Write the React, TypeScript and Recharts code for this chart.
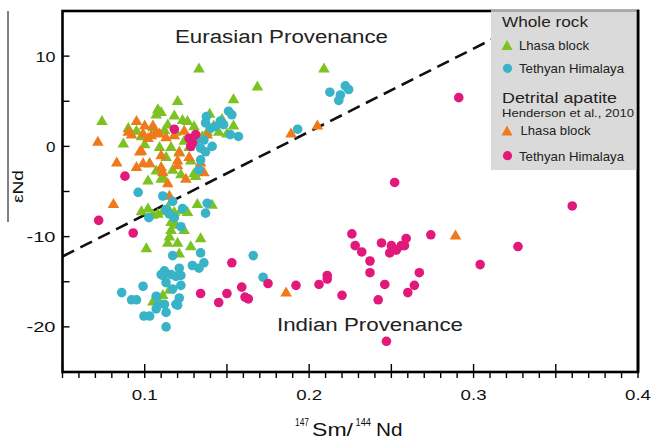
import { ScatterChart, Scatter, XAxis, YAxis, ReferenceLine } from 'recharts'

const FONT = '"Liberation Sans", Arial, sans-serif'

// 147Sm/144Nd vs eNd
const wholeRockLhasa: [number, number][] = [
  [0.074, 2.9], [0.087, 0.4], [0.09, 2.1], [0.095, 1.8], [0.098, 1.2], [0.1, 0.3],
  [0.102, -3.7], [0.103, -1.8], [0.105, 2.2], [0.107, 3.6], [0.108, 4.2], [0.11, 3.9],
  [0.107, -2.6], [0.109, 0.0], [0.111, -3.3], [0.112, 1.9], [0.113, -1.1], [0.114, 2.5],
  [0.116, 0.0], [0.118, 3.5], [0.119, 1.7], [0.12, 5.1], [0.121, -0.5], [0.123, 3.0],
  [0.124, 0.7], [0.126, 2.9], [0.127, 0.0], [0.128, -1.5], [0.13, 2.3], [0.13, -2.9],
  [0.133, 8.7], [0.135, 1.2], [0.138, 1.7], [0.1395, 3.7], [0.142, 2.4], [0.145, 1.7],
  [0.147, 3.1], [0.15, 1.5], [0.154, 2.4], [0.154, 5.3], [0.1685, 6.7], [0.209, 8.7],
  [0.098, -7.1], [0.102, -6.8], [0.105, -7.5], [0.108, -7.4], [0.111, -7.1], [0.114, -6.7],
  [0.118, -7.2], [0.122, -7.0], [0.126, -7.2], [0.132, -6.3], [0.141, -6.4], [0.116, -8.3],
  [0.119, -8.6], [0.116, -9.2], [0.124, -9.2], [0.115, -9.9], [0.114, -10.6], [0.12, -10.6],
  [0.101, -11.2], [0.128, -11.0], [0.134, -10.1], [0.121, -11.8], [0.111, -16.4], [0.105, -17.1],
  [0.115, -15.8], [0.108, -16.8], [0.117, -2.5], [0.122, -3.0], [0.131, -3.2], [0.11, -3.5],
]

const wholeRockTethyan: [number, number][] = [
  [0.2126, 6.0], [0.219, 5.7], [0.222, 6.7], [0.224, 6.3], [0.218, 5.1], [0.193, 1.9],
  [0.1375, 3.3], [0.14, 2.0], [0.143, 2.2], [0.146, 2.8], [0.148, 2.4], [0.151, 3.9],
  [0.153, 3.5], [0.152, 1.3], [0.157, 1.1], [0.137, 2.6], [0.136, 0.7], [0.141, 0.0],
  [0.134, -0.2], [0.137, -0.6], [0.134, -1.5], [0.133, -2.6], [0.131, 0.5], [0.096, -5.1],
  [0.111, -5.5], [0.1025, -7.9], [0.117, -6.1], [0.113, -7.0], [0.123, -6.9], [0.115, -7.5],
  [0.118, -7.9], [0.122, -8.9], [0.137, -7.4], [0.138, -6.3], [0.134, -11.8], [0.117, -12.1],
  [0.136, -12.9], [0.129, -13.2], [0.133, -13.5], [0.112, -13.8], [0.111, -14.3], [0.116, -14.2],
  [0.121, -13.5], [0.122, -14.3], [0.122, -15.4], [0.117, -15.8], [0.113, -15.1], [0.099, -15.5],
  [0.086, -16.2], [0.092, -17.0], [0.095, -17.0], [0.107, -16.6], [0.108, -17.6], [0.112, -17.5],
  [0.121, -16.8], [0.12, -17.6], [0.0995, -18.8], [0.103, -18.8], [0.107, -18.0], [0.113, -18.4],
  [0.113, -20.0], [0.119, -17.5], [0.166, -12.1], [0.172, -14.5], [0.119, -14.4], [0.11, -14.2],
]

const apatiteLhasa: [number, number][] = [
  [0.0715, 0.6], [0.081, -6.3], [0.083, -1.7], [0.09, 1.7], [0.092, 1.4], [0.095, 2.9],
  [0.095, -2.2], [0.098, -0.4], [0.099, 1.5], [0.099, -1.8], [0.1, 2.4], [0.103, -1.8],
  [0.104, 1.3], [0.105, 2.4], [0.107, 1.7], [0.109, 1.5], [0.11, -0.9], [0.111, -2.8],
  [0.113, 1.1], [0.114, -4.0], [0.115, -5.4], [0.118, 1.3], [0.12, -1.5], [0.12, -2.0],
  [0.121, -0.6], [0.124, 1.8], [0.125, -3.5], [0.127, -1.1], [0.134, -1.7], [0.136, -2.8],
  [0.138, 1.4], [0.189, 1.5], [0.205, 2.4], [0.186, -16.1], [0.289, -9.8], [0.097, -0.5],
  [0.11, -2.2], [0.102, 1.0],
]

const apatiteTethyan: [number, number][] = [
  [0.118, 1.9], [0.127, 0.9], [0.129, 0.4], [0.128, 0.0], [0.131, 1.3], [0.088, -3.3],
  [0.072, -8.2], [0.093, -9.6], [0.153, -12.9], [0.134, -16.3], [0.145, -17.3], [0.15, -16.3],
  [0.159, -15.6], [0.161, -16.7], [0.163, -16.9], [0.175, -15.2], [0.192, -15.4], [0.206, -15.3],
  [0.211, -14.3], [0.211, -14.7], [0.22, -16.5], [0.226, -9.7], [0.228, -11.0], [0.232, -11.7],
  [0.237, -12.7], [0.237, -14.0], [0.242, -17.0], [0.244, -10.7], [0.246, -15.3], [0.249, -11.8],
  [0.25, -11.0], [0.253, -11.5], [0.256, -11.0], [0.258, -11.0], [0.259, -10.2], [0.26, -16.2],
  [0.264, -15.4], [0.267, -14.0], [0.274, -9.8], [0.252, -4.0], [0.291, 5.4], [0.304, -13.1],
  [0.327, -11.1], [0.36, -6.6], [0.247, -21.6],
]

const boundary = [{ x: 0.05, y: -12.2 }, { x: 0.33, y: 13.6 }]

const xTicks = [
  0.05, 0.06, 0.07, 0.08, 0.09, 0.1, 0.11, 0.12, 0.13, 0.14, 0.15, 0.16, 0.17, 0.18, 0.19, 0.2,
  0.21, 0.22, 0.23, 0.24, 0.25, 0.26, 0.27, 0.28, 0.29, 0.3, 0.31, 0.32, 0.33, 0.34, 0.35, 0.36,
  0.37, 0.38, 0.39, 0.4,
]
const yTicks = [-25, -20, -15, -10, -5, 0, 5, 10, 15]
const yLabelWidth: Record<string, number> = { '10': 20, '0': 9.5, '-10': 29, '-20': 29 }

const GREEN = '#7cc220'
const CYAN = '#38b3c7'
const ORANGE = '#ee7a1c'
const PINK = '#e2187b'

const toPts = (a: [number, number][]) => a.map(([x, y]) => ({ x, y }))

const tri = (color: string) => (p: any) => (
  <polygon
    points={`${p.cx - 5.8},${p.cy + 4.7} ${p.cx + 5.8},${p.cy + 4.7} ${p.cx},${p.cy - 5.3}`}
    fill={color}
  />
)
const dot = (color: string) => (p: any) => <circle cx={p.cx} cy={p.cy} r={4.8} fill={color} />

function XTick({ x, y, payload }: any) {
  const c = Math.round(payload.value * 100)
  const label = c % 10 === 0 ? String(payload.value) : null
  return (
    <g>
      <line x1={x} x2={x} y1={y} y2={y + 6} stroke="#000" strokeWidth={1.4} />
      {c % 5 === 0 && <line x1={x} x2={x} y1={y} y2={y - 8} stroke="#000" strokeWidth={1.4} />}
      {label && (
        <text x={x} y={y + 28} textAnchor="middle" fontSize={15} fontFamily={FONT} fill="#111"
          textLength={26} lengthAdjust="spacingAndGlyphs">{label}</text>
      )}
    </g>
  )
}

function YTick({ x, y, payload }: any) {
  const v = payload.value
  if (v <= -25 || v >= 15) return <g />
  const label = v % 10 === 0 ? String(v) : null
  return (
    <g>
      <line x1={x} x2={x + 7} y1={y} y2={y} stroke="#000" strokeWidth={1.4} />
      {label && (
        <text x={x - 7} y={y + 5.4} textAnchor="end" fontSize={15} fontFamily={FONT} fill="#111"
          textLength={yLabelWidth[label]} lengthAdjust="spacingAndGlyphs">{label}</text>
      )}
    </g>
  )
}

function Legend() {
  const t = { fontFamily: FONT, fill: '#222' }
  return (
    <g>
      <rect x={491} y={10} width={146} height={160} fill="#dadada" />
      <line x1={491} x2={637} y1={11} y2={11} stroke="#777" strokeWidth={1} />
      <text x={502} y={27} fontSize={15} textLength={86} lengthAdjust="spacingAndGlyphs" {...t}>Whole rock</text>
      <polygon points="501.5,50 512.5,50 507,40" fill={GREEN} />
      <text x={519} y={50} fontSize={13} textLength={70} lengthAdjust="spacingAndGlyphs" {...t}>Lhasa block</text>
      <circle cx={507.5} cy={68.3} r={4.6} fill={CYAN} />
      <text x={519} y={73} fontSize={13} textLength={105} lengthAdjust="spacingAndGlyphs" {...t}>Tethyan Himalaya</text>
      <text x={502} y={102.7} fontSize={15} textLength={115} lengthAdjust="spacingAndGlyphs" {...t}>Detrital apatite</text>
      <text x={502} y={117.3} fontSize={11.5} textLength={132} lengthAdjust="spacingAndGlyphs" {...t}>Henderson et al., 2010</text>
      <polygon points="501.5,135.5 512.5,135.5 507,125.5" fill={ORANGE} />
      <text x={520.5} y={135} fontSize={13} textLength={70} lengthAdjust="spacingAndGlyphs" {...t}>Lhasa block</text>
      <circle cx={507.5} cy={155.7} r={4.6} fill={PINK} />
      <text x={519} y={160.5} fontSize={13} textLength={105} lengthAdjust="spacingAndGlyphs" {...t}>Tethyan Himalaya</text>
    </g>
  )
}

export default function App() {
  return (
    <div style={{ position: 'absolute', left: 0, top: 0, width: 652, height: 440, background: '#fff' }}>
      <ScatterChart width={652} height={440} margin={{ top: 11, right: 14, bottom: 0, left: 0 }}>
        <XAxis dataKey="x" type="number" domain={[0.05, 0.4]} ticks={xTicks} interval={0}
          height={68} tickSize={0} tickMargin={0} tickLine={false} axisLine={false} tick={<XTick />} />
        <YAxis dataKey="y" type="number" domain={[-25, 15]} ticks={yTicks} interval={0}
          width={62.5} tickSize={0} tickMargin={0} tickLine={false} axisLine={false} tick={<YTick />} />
        <ReferenceLine segment={boundary} stroke="#111" strokeWidth={2.6} strokeDasharray="13 7" />
        <Scatter data={toPts(wholeRockLhasa)} shape={tri(GREEN)} isAnimationActive={false} />
        <Scatter data={toPts(apatiteLhasa)} shape={tri(ORANGE)} isAnimationActive={false} />
        <Scatter data={toPts(wholeRockTethyan)} shape={dot(CYAN)} isAnimationActive={false} />
        <Scatter data={toPts(apatiteTethyan)} shape={dot(PINK)} isAnimationActive={false} />
      </ScatterChart>
      <svg width={652} height={440} style={{ position: 'absolute', left: 0, top: 0, pointerEvents: 'none' }}>
        <rect x={62.5} y={11} width={575.5} height={361} fill="none" stroke="#000" strokeWidth={2.6} />
        <Legend />
        <line x1={638} x2={638} y1={9.7} y2={372} stroke="#000" strokeWidth={2.6} />
        <text x={175} y={42.7} fontSize={18} fontFamily={FONT} fill="#222" textLength={213}
          lengthAdjust="spacingAndGlyphs">Eurasian Provenance</text>
        <text x={277} y={330.5} fontSize={18} fontFamily={FONT} fill="#222" textLength={186}
          lengthAdjust="spacingAndGlyphs">Indian Provenance</text>
        <line x1={8} x2={8} y1={11} y2={222} stroke="#000" strokeWidth={1} />
        <text transform="translate(23, 186.5) rotate(-90)" textAnchor="middle" fontSize={15}
          fontFamily={FONT} fill="#111" textLength={33} lengthAdjust="spacingAndGlyphs">εNd</text>
        <g fontFamily={FONT} fill="#111">
          <text x={295} y={426} fontSize={10} textLength={14} lengthAdjust="spacingAndGlyphs">147</text>
          <text x={312} y={436} fontSize={18} textLength={41} lengthAdjust="spacingAndGlyphs">Sm/</text>
          <text x={355.5} y={426} fontSize={10} textLength={15.5} lengthAdjust="spacingAndGlyphs">144</text>
          <text x={376} y={436} fontSize={18} textLength={26.5} lengthAdjust="spacingAndGlyphs">Nd</text>
        </g>
      </svg>
    </div>
  )
}
